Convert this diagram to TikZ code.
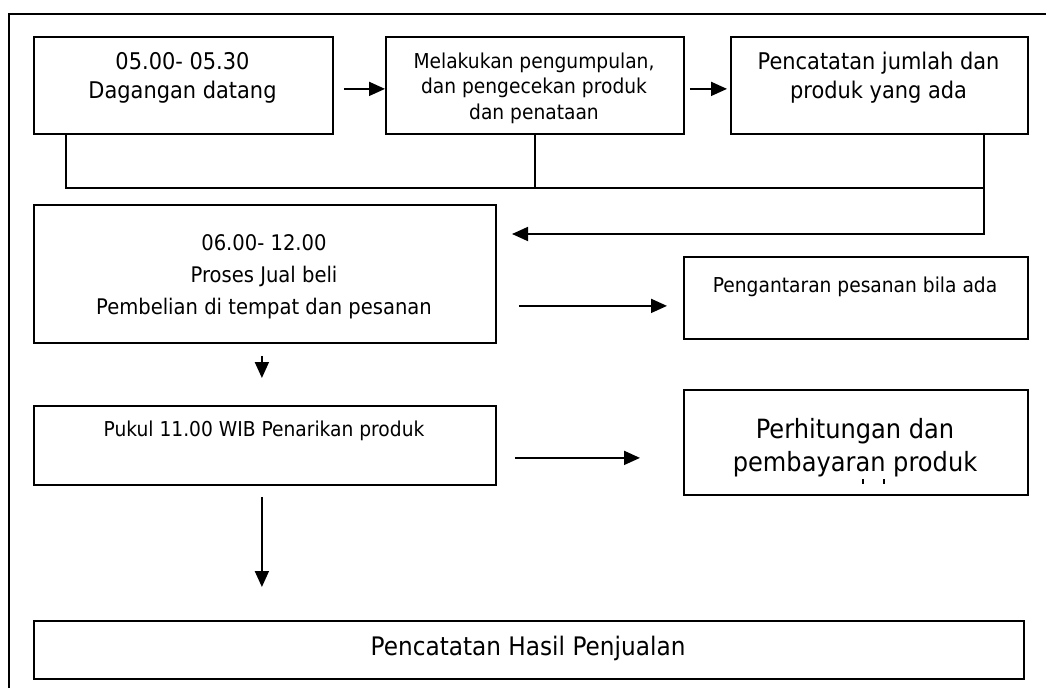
\documentclass[tikz,border=0pt]{standalone}
\usepackage{fontspec}
\setmainfont{DejaVu Sans}[FakeStretch=0.91]
\usetikzlibrary{arrows.meta}
\tikzset{
  box/.style={draw, line width=1.8pt, rectangle, inner sep=0pt, anchor=north west},
  ln/.style={line width=1.8pt},
  arr/.style={line width=1.8pt, -{Triangle[length=16pt,width=14pt]}},
  txt/.style={align=center, inner sep=0pt},
}
\begin{document}
\begin{tikzpicture}[x=1pt,y=-1pt]
\useasboundingbox (0,0) rectangle (1046,688);
% outer frame (open at right and bottom)
\draw[ln] (9,688) |- (1046,14);
% boxes
\node[box, minimum width=299pt, minimum height=97pt] (b1) at (33,36) {};
\node[box, minimum width=298pt, minimum height=97pt] (b2) at (385,36) {};
\node[box, minimum width=297pt, minimum height=97pt] (b3) at (730,36) {};
\node[box, minimum width=462pt, minimum height=138pt] (b4) at (33,204) {};
\node[box, minimum width=344pt, minimum height=82pt] (b5) at (683,256) {};
\node[box, minimum width=462pt, minimum height=79pt] (b6) at (33,405) {};
\node[box, minimum width=344pt, minimum height=105pt] (b7) at (683,389) {};
\node[box, minimum width=990pt, minimum height=58pt] (b8) at (33,620) {};
% texts
\node[txt, font=\fontsize{23}{29}\selectfont] (t1) at (182.5,78) {05.00- 05.30\\Dagangan datang};
\node[txt, font=\fontsize{20.5}{25.5}\selectfont] (t2) at (534,88) {Melakukan pengumpulan,\\dan pengecekan produk\\dan penataan};
\node[txt, font=\fontsize{23}{29}\selectfont] (t3) at (878.5,78) {Pencatatan jumlah dan\\produk yang ada};
\node[txt, font=\fontsize{21.5}{32}\selectfont] (t4) at (264,277) {06.00- 12.00\\Proses Jual beli\\Pembelian di tempat dan pesanan};
\node[txt, font=\fontsize{20.5}{25.5}\selectfont] (t5) at (855,287) {Pengantaran pesanan bila ada};
\node[txt, font=\fontsize{20.5}{25.5}\selectfont] (t6) at (264,431) {Pukul 11.00 WIB Penarikan produk};
\node[txt, font=\fontsize{26.5}{33}\selectfont] (t7) at (855,448) {Perhitungan dan\\pembayaran produk};
\node[txt, font=\fontsize{25.5}{30}\selectfont] (t8) at (528,648) {Pencatatan Hasil Penjualan};
% clipped remnants of a third line in b7
\draw[line width=2pt] (863,479) -- (863,484);
\draw[line width=2pt] (884,479) -- (884,484);
% connectors
\draw[arr] ([xshift=10pt,yshift=-3.5pt]b1.east) -- ([yshift=-3.5pt]b2.west);
\draw[arr] ([xshift=5pt,yshift=-3.5pt]b2.east) -- ([xshift=-3pt,yshift=-3.5pt]b3.west);
\coordinate (jr) at (984,188);
\coordinate (fb) at (512,234);
\draw[ln] ([xshift=33pt]b1.south west) |- (jr);
\draw[ln] (b2.south) -- (b2.south |- jr);
\draw[arr] (b3.south -| jr) |- (fb);
\draw[arr] ([xshift=22pt,yshift=-32pt]b4.east) -- ([xshift=-16pt,yshift=-8pt]b5.west);
\draw[arr] ([xshift=-3pt,yshift=-12pt]b4.south) -- ([xshift=-3pt,yshift=27pt]b6.north);
\draw[arr] ([xshift=18pt,yshift=-12.5pt]b6.east) -- ([xshift=-43pt,yshift=-15.5pt]b7.west);
\draw[arr] ([xshift=-3pt,yshift=-11pt]b6.south) -- ([xshift=-267pt,yshift=33pt]b8.north);
\end{tikzpicture}
\end{document}
